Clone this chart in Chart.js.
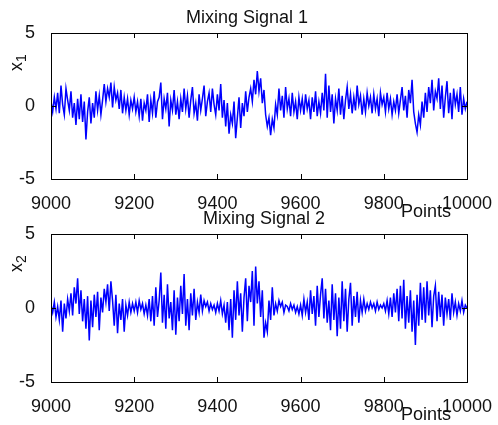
<!DOCTYPE html>
<html>
<head>
<meta charset="utf-8">
<script src="https://cdn.jsdelivr.net/npm/chart.js@4"></script>
<style>
  body { margin: 0; background: #fff; }
  #wrap { position: relative; width: 498px; height: 425px; }
  canvas { position: absolute; left: 0; }
</style>
</head>
<body>
<div id="wrap">
  <canvas id="chart1" width="498" height="230" style="top:0"></canvas>
  <canvas id="chart2" width="498" height="225" style="top:200px"></canvas>
</div>
<script>
// x positions: every 4th point between 9000 and 10000
const startPoint = 9000;
const step = 4;
const xTicks = [9000, 9200, 9400, 9600, 9800, 10000];
const yTicks = [-5, 0, 5];

// Mixing signal 1 (25 values per 100 points)
const signal1 = [
  0.3, -0.4, 0.6, -0.2, 0.9, -0.5, 1.4, 0.1, -0.6, 1.2, 0.4, -0.3, 1.0, -0.8, 0.2, -1.3, 0.5, -0.9, 0.8, -1.1, 0.3, -2.3, -0.4, 0.6, -1.2,
  0.2, -0.8, 1.0, -0.3, 0.7, -0.6, 0.4, 1.5, 0.3, 1.2, 0.6, 1.6, -0.1, 1.3, 0.4, 0.9, -0.2, 1.1, -0.5, 0.6, -0.3, 0.5, -0.6, 0.4, -0.2,
  0.6, -0.4, 0.3, -0.7, 0.5, -1.0, 0.2, -0.3, 0.8, -1.1, 0.4, -0.5, 1.0, -0.8, 0.3, 0.6, 1.6, -0.9, 0.5, -0.2, 0.9, -1.4, 0.4, -0.3, 1.1,
  -0.6, 0.3, -0.9, 0.5, -0.4, 1.2, -0.2, 0.7, -0.8, 0.4, 1.3, -0.5, 0.2, -1.0, 0.8, -0.3, 0.5, 1.4, -0.7, 0.3, 0.9, -0.4, 1.2, 0.1, -0.6,
  0.8, -0.3, 1.5, -0.8, 0.4, -1.4, 0.2, -1.9, -0.6, -1.2, 0.3, -2.2, -0.8, 0.6, -1.5, 0.2, -0.7, 1.0, -0.4, 0.6, 1.2, 0.3, 1.8, 0.8, 2.4,
  1.0, 1.9, 0.2, 1.1, -0.6, -1.4, -0.8, -2.0, -0.9, -1.5, 0.1, -0.6, 1.2, -0.3, 0.7, -0.8, 1.3, -0.2, 0.5, -0.7, 0.9, -0.4, 0.3, -0.9, 0.6,
  -0.3, 0.5, -0.6, 0.8, -0.2, 0.4, -0.9, 0.6, -0.4, 1.0, -0.7, 0.3, -0.5, 0.9, -0.3, 2.2, -0.8, 1.4, -0.4, 0.8, -1.2, 0.5, -0.3, 1.2, -0.6,
  0.7, -0.9, 0.4, 1.3, -0.2, 0.8, -0.5, 0.6, -0.3, 1.4, 0.1, 0.7, -0.6, 0.5, -0.4, 0.9, 0.0, 0.6, -0.5, 0.8, -0.2, 0.5, -0.7, 0.9, 0.1,
  0.6, -0.4, 0.9, -0.2, 0.5, -0.6, 0.3, -0.3, 0.8, -0.5, 0.4, 1.3, -0.3, 0.7, -0.8, 1.1, 0.2, 1.8, -0.4, -1.2, -1.8, -0.6, -1.3, 0.3, -0.8,
  0.9, -0.4, 1.3, 0.2, 1.8, -0.3, 1.0, 0.5, 1.9, -0.2, 1.4, -0.8, 0.6, 1.7, -0.5, 0.9, -0.9, 1.2, 0.1, 0.8, -0.4, 1.3, -0.6, 0.5, -0.2,
  0.3
];

// Mixing signal 2
const signal2 = [
  0.2, -0.3, 0.4, -0.6, 0.1, -0.8, 0.5, -1.6, 0.3, -0.7, 0.6, -0.2, 1.0, -0.5, 1.4, 0.3, 2.0, -0.4, 1.2, -0.9, 0.6, -1.4, 0.8, -2.2, 0.5,
  -1.3, 0.9, -0.6, 1.1, -1.5, 0.7, -0.3, 1.3, 0.4, 1.6, -0.2, 1.8, 0.5, -1.2, 0.9, -1.7, 0.3, -0.8, 0.6, -1.6, 0.2, -0.5, 0.4, -0.3, 0.3,
  -0.2, 0.4, -0.3, 0.5, -0.1, 0.3, -0.4, 0.2, -0.5, 0.6, -0.9, 0.8, -1.2, 1.4, -0.6, 0.5, 2.4, -1.0, 0.9, -1.4, 1.6, -0.7, 0.4, -1.5, 1.2,
  -1.8, 0.7, -0.9, 1.5, -0.4, 2.3, -1.2, 0.6, -1.5, 1.0, -0.5, 1.3, -0.8, 0.4, -0.3, 0.9, -0.2, 0.5, 0.1, 0.4, -0.2, 0.3, -0.1, 0.2, -0.3,
  0.3, -0.2, 0.5, -0.4, 0.2, -1.0, 0.4, -1.5, 0.6, -2.0, 1.2, -0.8, 1.8, -0.5, 1.0, -1.6, 0.7, 2.0, -0.9, 1.5, 0.4, 2.5, -1.2, 2.8, 0.3,
  1.8, -0.6, 1.2, -2.0, -1.0, -1.6, 0.5, -0.8, 1.4, -0.5, 0.3, -0.2, 0.5, 0.1, 0.4, -0.3, 0.2, 0.1, -0.2, 0.3, -0.1, 0.2, -0.3, 0.1, -0.4,
  0.2, -0.5, 0.6, -0.3, 0.4, -0.8, 1.2, -0.4, 0.8, -1.2, 1.5, -0.6, 0.9, 2.0, -0.7, 1.3, -1.0, 0.5, -1.5, 1.6, -0.8, 1.0, -1.9, 0.7, -1.4,
  1.8, -0.9, 1.3, -1.6, 0.6, 1.7, -1.2, 0.8, -0.6, 1.1, -1.0, 0.5, -0.3, 0.6, -0.2, 0.3, -0.1, 0.4, 0.0, 0.3, -0.2, 0.4, -0.1, 0.2, 0.0,
  0.3, -0.2, 0.5, -0.4, 0.7, -0.6, 1.0, -0.3, 1.3, -0.9, 1.5, -0.7, 1.9, -1.4, 0.8, -1.0, 1.2, -1.6, 0.5, -2.5, 0.9, -1.2, 1.7, -0.8, 1.4,
  -1.0, 1.8, -0.5, 1.2, -1.3, 0.8, 1.5, -0.9, 1.1, -0.6, 0.9, -1.2, 0.7, -0.4, 0.6, -0.8, 1.0, -0.3, 0.4, -0.5, 0.3, -0.2, 0.5, -0.3, 0.2,
  0.0
];

const textColor = '#111';
const fontFamily = 'Arial, "Liberation Sans", sans-serif';

// box, inward ticks and the matlab style labels
const frame = {
    id: 'frame',
    afterDraw(chart, args, opts) {
        const ctx = chart.ctx;
        const a = chart.chartArea;
        const x = chart.scales.x, y = chart.scales.y;
        ctx.save();
        ctx.strokeStyle = '#000';
        ctx.lineWidth = 1;
        ctx.strokeRect(Math.round(a.left) + 0.5, Math.round(a.top) + 0.5,
            Math.round(a.right - a.left), Math.round(a.bottom - a.top));
        ctx.beginPath();
        for (const v of xTicks) {
            const px = Math.round(x.getPixelForValue(v)) + 0.5;
            ctx.moveTo(px, a.bottom); ctx.lineTo(px, a.bottom - 5);
            ctx.moveTo(px, a.top); ctx.lineTo(px, a.top + 5);
        }
        for (const v of yTicks) {
            const py = Math.round(y.getPixelForValue(v)) + 0.5;
            ctx.moveTo(a.left, py); ctx.lineTo(a.left + 5, py);
            ctx.moveTo(a.right, py); ctx.lineTo(a.right - 5, py);
        }
        ctx.stroke();

        ctx.fillStyle = textColor;
        ctx.textAlign = 'center';
        ctx.textBaseline = 'middle';
        ctx.font = '18px ' + fontFamily;
        ctx.fillText(opts.title, opts.titleX, opts.titleY);
        ctx.fillText('Points', opts.pointsX, opts.pointsY);

        // y label: x with subscript, rotated
        ctx.translate(opts.labelX, opts.labelY);
        ctx.rotate(-Math.PI / 2);
        ctx.textAlign = 'left';
        ctx.textBaseline = 'alphabetic';
        ctx.font = '18px ' + fontFamily;
        ctx.fillText('x', -7, 4);
        ctx.font = '14px ' + fontFamily;
        ctx.fillText(opts.sub, 2, 8);
        ctx.restore();
    }
};

function makeChart(id, values, xHeight, padTop, frameOpts) {
    const points = values.map((v, i) => ({x: startPoint + i * step, y: v}));
    return new Chart(document.getElementById(id), {
        type: 'line',
        data: {
            datasets: [{
                data: points,
                borderColor: '#0000ff',
                borderWidth: 1.5,
                pointRadius: 0,
                tension: 0
            }]
        },
        options: {
            responsive: false,
            animation: false,
            devicePixelRatio: 1,
            layout: { padding: { left: 0, right: 31, top: padTop, bottom: 0 } },
            plugins: {
                legend: { display: false },
                tooltip: { enabled: false },
                frame: frameOpts
            },
            scales: {
                x: {
                    type: 'linear',
                    min: 9000,
                    max: 10000,
                    afterBuildTicks: s => { s.ticks = xTicks.map(v => ({value: v})); },
                    afterFit: s => { s.height = xHeight; },
                    grid: { display: false },
                    border: { display: false },
                    ticks: {
                        color: textColor, padding: 6, maxRotation: 0,
                        font: { size: 18, family: fontFamily },
                        callback: v => String(v)
                    }
                },
                y: {
                    min: -5,
                    max: 5,
                    afterBuildTicks: s => { s.ticks = yTicks.map(v => ({value: v})); },
                    afterFit: s => { s.width = 51; },
                    grid: { display: false },
                    border: { display: false },
                    ticks: {
                        color: textColor, padding: 8,
                        font: { size: 18, family: fontFamily },
                        callback: v => String(v)
                    }
                }
            }
        },
        plugins: [frame]
    });
}

makeChart('chart1', signal1, 51, 33, {
    title: 'Mixing Signal 1', titleX: 247, titleY: 18,
    pointsX: 426, pointsY: 212, labelX: 18, labelY: 64, sub: '1'
});
makeChart('chart2', signal2, 43, 34, {
    title: 'Mixing Signal 2', titleX: 264, titleY: 19,
    pointsX: 426, pointsY: 215, labelX: 18, labelY: 65, sub: '2'
});
</script>
</body>
</html>
